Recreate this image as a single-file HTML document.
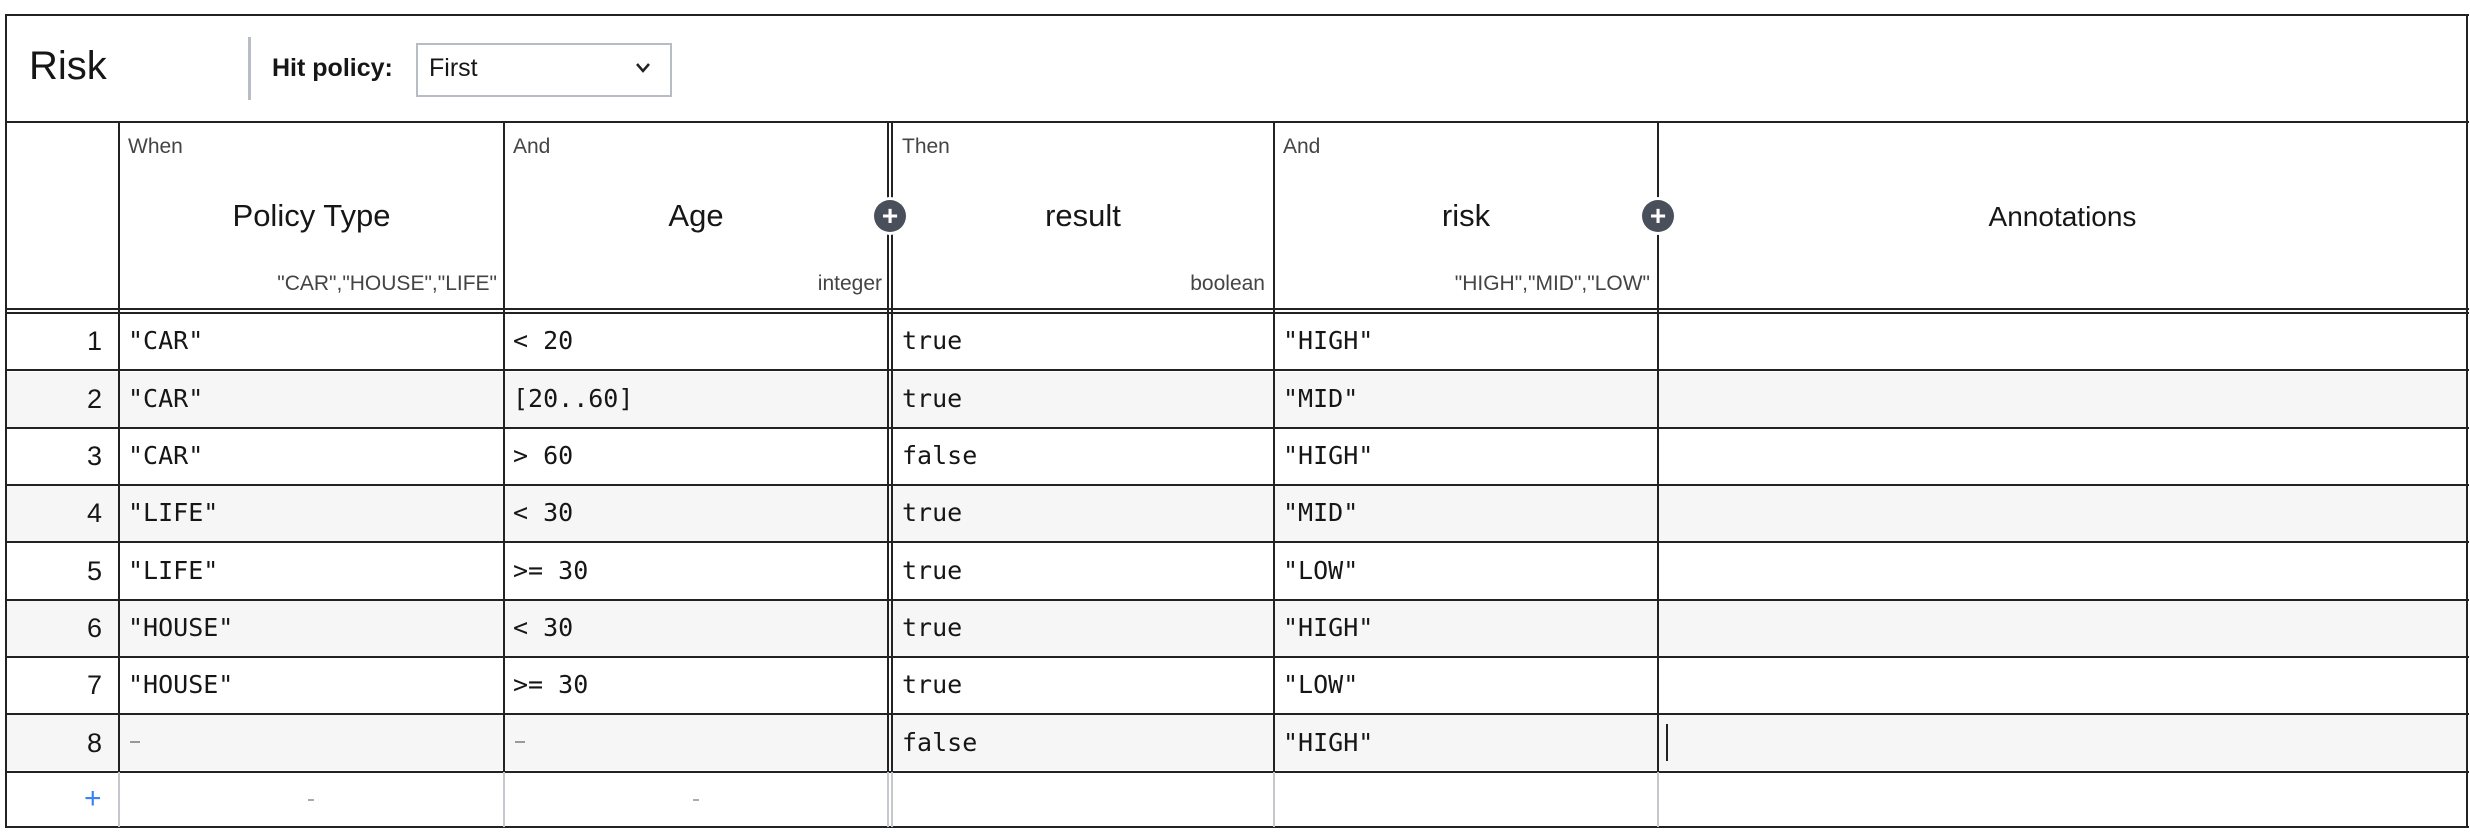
<!DOCTYPE html>
<html><head><meta charset="utf-8"><style>
body{margin:0;width:2470px;height:840px;background:#fff;position:relative;overflow:hidden;font-family:"Liberation Sans",sans-serif;color:#161616}
.a{position:absolute}
.h{position:absolute;height:2px;background:#222}
.v{position:absolute;width:2px;background:#222}
.lv{position:absolute;width:2px;background:#c4c7cc}
.bg{position:absolute;background:#f6f6f6;height:55px}
.lab{position:absolute;font-size:21px;color:#444;top:135px}
.title{position:absolute;font-size:31px;top:198px;text-align:center}
.sub{position:absolute;font-size:21px;color:#444;top:272px;text-align:right}
.m{position:absolute;font-family:"DejaVu Sans Mono","Liberation Mono",monospace;font-size:25px;line-height:30px}
.n{position:absolute;font-size:27px;line-height:30px;width:60px;text-align:right;left:42px}
.plus{position:absolute;width:32px;height:32px;border-radius:50%;background:#4a4f5c;color:#fff;text-align:center;line-height:31px;font-size:28px;font-weight:bold;box-shadow:0 0 0 3px #fff}
</style></head><body>
<div class="bg" style="left:6px;width:2460px;top:372px"></div>
<div class="bg" style="left:6px;width:2460px;top:486px"></div>
<div class="bg" style="left:6px;width:2460px;top:601px"></div>
<div class="bg" style="left:6px;width:2460px;top:715px"></div>
<div class="h" style="left:5px;width:2464px;top:14px"></div>
<div class="h" style="left:5px;width:2464px;top:826px"></div>
<div class="v" style="left:5px;top:14px;height:814px"></div>
<div class="v" style="left:2466px;top:14px;height:814px"></div>
<div class="a" style="left:29px;top:44px;font-size:40px;color:#161616">Risk</div>
<div class="a" style="left:248px;top:37px;width:3px;height:63px;background:#b8bcc4"></div>
<div class="a" style="left:272px;top:54px;font-size:25px;font-weight:bold">Hit policy:</div>
<div class="a" style="left:416px;top:43px;width:252px;height:50px;border:2px solid #b8bcc4;background:#fff"></div>
<div class="a" style="left:429px;top:54px;font-size:25px">First</div>
<svg class="a" style="left:636px;top:63px" width="14" height="10"><polyline points="1,1 7,8 13,1" fill="none" stroke="#222" stroke-width="2.5"/></svg>
<div class="h" style="left:5px;width:2464px;top:121px"></div>
<div class="h" style="left:5px;width:2464px;top:308px"></div>
<div class="h" style="left:5px;width:2464px;top:312px"></div>
<div class="h" style="left:5px;width:2464px;top:369px"></div>
<div class="h" style="left:5px;width:2464px;top:427px"></div>
<div class="h" style="left:5px;width:2464px;top:484px"></div>
<div class="h" style="left:5px;width:2464px;top:541px"></div>
<div class="h" style="left:5px;width:2464px;top:599px"></div>
<div class="h" style="left:5px;width:2464px;top:656px"></div>
<div class="h" style="left:5px;width:2464px;top:713px"></div>
<div class="h" style="left:5px;width:2464px;top:771px"></div>
<div class="v" style="left:118px;top:122px;height:650px"></div>
<div class="v" style="left:503px;top:122px;height:650px"></div>
<div class="v" style="left:887px;top:122px;height:650px"></div>
<div class="v" style="left:891px;top:122px;height:650px"></div>
<div class="v" style="left:1273px;top:122px;height:650px"></div>
<div class="v" style="left:1657px;top:122px;height:650px"></div>
<div class="lv" style="left:118px;top:772px;height:55px"></div>
<div class="lv" style="left:503px;top:772px;height:55px"></div>
<div class="lv" style="left:887px;top:772px;height:55px"></div>
<div class="lv" style="left:891px;top:772px;height:55px"></div>
<div class="lv" style="left:1273px;top:772px;height:55px"></div>
<div class="lv" style="left:1657px;top:772px;height:55px"></div>
<div class="lab" style="left:128px">When</div>
<div class="lab" style="left:513px">And</div>
<div class="lab" style="left:902px">Then</div>
<div class="lab" style="left:1283px">And</div>
<div class="title" style="left:120px;width:383px">Policy Type</div>
<div class="title" style="left:505px;width:382px">Age</div>
<div class="title" style="left:893px;width:380px">result</div>
<div class="title" style="left:1275px;width:382px">risk</div>
<div class="title" style="left:1659px;width:807px;font-size:28px;top:201px">Annotations</div>
<div class="sub" style="left:120px;width:377px">"CAR","HOUSE","LIFE"</div>
<div class="sub" style="left:505px;width:377px">integer</div>
<div class="sub" style="left:893px;width:372px">boolean</div>
<div class="sub" style="left:1275px;width:375px">"HIGH","MID","LOW"</div>
<div class="plus" style="left:874px;top:200px">+</div>
<div class="plus" style="left:1642px;top:200px">+</div>
<div class="n" style="top:326px">1</div>
<div class="n" style="top:384px">2</div>
<div class="n" style="top:441px">3</div>
<div class="n" style="top:498px">4</div>
<div class="n" style="top:556px">5</div>
<div class="n" style="top:613px">6</div>
<div class="n" style="top:670px">7</div>
<div class="n" style="top:728px">8</div>
<div class="m" style="left:128px;top:326px">"CAR"</div>
<div class="m" style="left:513px;top:326px">&lt; 20</div>
<div class="m" style="left:902px;top:326px">true</div>
<div class="m" style="left:1283px;top:326px">"HIGH"</div>
<div class="m" style="left:128px;top:384px">"CAR"</div>
<div class="m" style="left:513px;top:384px">[20..60]</div>
<div class="m" style="left:902px;top:384px">true</div>
<div class="m" style="left:1283px;top:384px">"MID"</div>
<div class="m" style="left:128px;top:441px">"CAR"</div>
<div class="m" style="left:513px;top:441px">&gt; 60</div>
<div class="m" style="left:902px;top:441px">false</div>
<div class="m" style="left:1283px;top:441px">"HIGH"</div>
<div class="m" style="left:128px;top:498px">"LIFE"</div>
<div class="m" style="left:513px;top:498px">&lt; 30</div>
<div class="m" style="left:902px;top:498px">true</div>
<div class="m" style="left:1283px;top:498px">"MID"</div>
<div class="m" style="left:128px;top:556px">"LIFE"</div>
<div class="m" style="left:513px;top:556px">&gt;= 30</div>
<div class="m" style="left:902px;top:556px">true</div>
<div class="m" style="left:1283px;top:556px">"LOW"</div>
<div class="m" style="left:128px;top:613px">"HOUSE"</div>
<div class="m" style="left:513px;top:613px">&lt; 30</div>
<div class="m" style="left:902px;top:613px">true</div>
<div class="m" style="left:1283px;top:613px">"HIGH"</div>
<div class="m" style="left:128px;top:670px">"HOUSE"</div>
<div class="m" style="left:513px;top:670px">&gt;= 30</div>
<div class="m" style="left:902px;top:670px">true</div>
<div class="m" style="left:1283px;top:670px">"LOW"</div>
<div class="a" style="left:130px;top:741px;width:10px;height:2px;background:#999"></div>
<div class="a" style="left:515px;top:741px;width:10px;height:2px;background:#999"></div>
<div class="m" style="left:902px;top:728px">false</div>
<div class="m" style="left:1283px;top:728px">"HIGH"</div>
<div class="a" style="left:1666px;top:724px;width:2px;height:37px;background:#222"></div>
<div class="a" style="left:84px;top:782px;font-size:30px;color:#3b82f6">+</div>
<div class="a" style="left:308px;top:799px;width:6px;height:2px;background:#aaa"></div>
<div class="a" style="left:693px;top:799px;width:6px;height:2px;background:#aaa"></div>
</body></html>
